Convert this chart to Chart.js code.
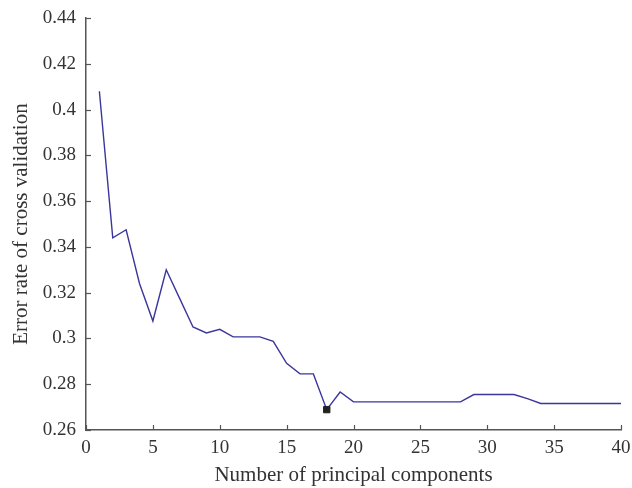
<!DOCTYPE html>
<html>
<head>
<meta charset="utf-8">
<script src="https://cdn.jsdelivr.net/npm/chart.js@4.4.1/dist/chart.umd.min.js"></script>
<style>
  html, body { margin: 0; padding: 0; background: #fff; }
  #wrap { width: 632px; height: 488px; position: relative; }
</style>
</head>
<body>
<div id="wrap"><canvas id="c" width="632" height="488"></canvas></div>
<script>
// Number of principal components kept
const components = [1, 2, 3, 4, 5, 6, 7, 8, 9, 10, 11, 12, 13, 14, 15, 16, 17, 18, 19, 20,
  21, 22, 23, 24, 25, 26, 27, 28, 29, 30, 31, 32, 33, 34, 35, 36, 37, 38, 39, 40];
// Cross-validation error rate for each component count
const errorRates = [0.408, 0.344, 0.3475, 0.324, 0.3076, 0.330, 0.3175, 0.305, 0.3024, 0.304,
  0.3007, 0.3007, 0.3007, 0.2987, 0.2891, 0.2845, 0.2845, 0.2689, 0.2766, 0.2723,
  0.2723, 0.2723, 0.2723, 0.2723, 0.2723, 0.2723, 0.2723, 0.2723, 0.2755, 0.2755,
  0.2755, 0.2755, 0.2737, 0.2716, 0.2716, 0.2716, 0.2716, 0.2716, 0.2716, 0.2716];
// Best (minimum) point
const bestComponent = [18];
const bestError = [0.2689];
// Axis ticks
const xTicks = [0, 5, 10, 15, 20, 25, 30, 35, 40];
const yTicks = [0.26, 0.28, 0.3, 0.32, 0.34, 0.36, 0.38, 0.4, 0.42, 0.44];

const FONT = "'Liberation Serif', 'DejaVu Serif', serif";
const AXIS = '#555555';

// Short inward tick marks along the left and bottom axes
const inwardTicks = {
  id: 'inwardTicks',
  afterDatasetsDraw(chart) {
    const { ctx, chartArea, scales } = chart;
    ctx.save();
    ctx.strokeStyle = AXIS;
    ctx.lineWidth = 1.2;
    const len = 5;
    xTicks.forEach(v => {
      const px = Math.round(scales.x.getPixelForValue(v)) + 0.5;
      ctx.beginPath();
      ctx.moveTo(px, chartArea.bottom);
      ctx.lineTo(px, chartArea.bottom - len);
      ctx.stroke();
    });
    yTicks.forEach(v => {
      const py = Math.round(scales.y.getPixelForValue(v)) + 0.5;
      ctx.beginPath();
      ctx.moveTo(chartArea.left, py);
      ctx.lineTo(chartArea.left + len, py);
      ctx.stroke();
    });
    ctx.restore();
  }
};

new Chart(document.getElementById('c'), {
  type: 'line',
  data: {
    datasets: [
      {
        label: 'Best',
        data: bestComponent.map((x, i) => ({ x, y: bestError[i] })),
        showLine: false,
        pointStyle: 'rect',
        pointRadius: 4.5,
        backgroundColor: '#222222',
        borderColor: '#222222',
        borderWidth: 1,
        order: 0
      },
      {
        label: 'Error rate',
        data: components.map((x, i) => ({ x, y: errorRates[i] })),
        borderColor: '#3a369c',
        borderWidth: 1.4,
        pointRadius: 0,
        tension: 0,
        fill: false,
        order: 1
      }
    ]
  },
  options: {
    responsive: false,
    animation: false,
    devicePixelRatio: 1,
    layout: { padding: { top: 18, right: 11, left: 0, bottom: 0 } },
    plugins: { legend: { display: false }, tooltip: { enabled: false } },
    scales: {
      x: {
        type: 'linear',
        min: 0,
        max: 40,
        afterBuildTicks(scale) { scale.ticks = xTicks.map(v => ({ value: v })); },
        afterFit(scale) {
          scale.height = 58;
          scale.paddingLeft = 0;
          scale.paddingRight = 0;
        },
        border: { display: true, color: AXIS, width: 1.5 },
        grid: { display: false, drawTicks: false },
        ticks: {
          padding: 7,
          color: '#333',
          font: { family: FONT, size: 19 },
          maxRotation: 0,
          callback: v => String(v)
        },
        title: {
          display: true,
          text: 'Number of principal components',
          color: '#333',
          font: { family: FONT, size: 21 },
          padding: { top: 0, bottom: 0 }
        }
      },
      y: {
        type: 'linear',
        min: 0.26,
        max: 0.44,
        afterBuildTicks(scale) { scale.ticks = yTicks.map(v => ({ value: v })); },
        afterFit(scale) {
          scale.width = 86;
          scale.paddingTop = 0;
          scale.paddingBottom = 0;
        },
        border: { display: true, color: AXIS, width: 1.5 },
        grid: { display: false, drawTicks: false },
        ticks: {
          padding: 10,
          color: '#333',
          font: { family: FONT, size: 19 },
          callback: v => String(Math.round(v * 100) / 100)
        },
        title: {
          display: true,
          text: 'Error rate of cross validation',
          color: '#333',
          font: { family: FONT, size: 21 },
          padding: { top: 9, bottom: 0 }
        }
      }
    }
  },
  plugins: [inwardTicks]
});
</script>
</body>
</html>
